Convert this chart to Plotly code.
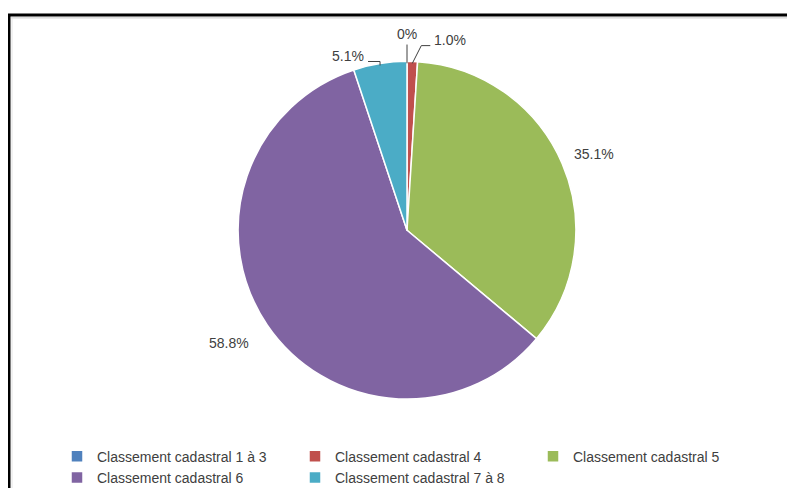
import math
import plotly.graph_objects as go

W, H = 795, 502
OFF = 8  # page body margin

labels = ["Classement cadastral 1 à 3", "Classement cadastral 4", "Classement cadastral 5",
          "Classement cadastral 6", "Classement cadastral 7 à 8"]
values = [0.0, 1.0, 35.1, 58.8, 5.1]
text_labels = ["0%", "1.0%", "35.1%", "58.8%", "5.1%"]
colors = ["#4F81BD", "#C0504D", "#9BBB59", "#8064A2", "#4BACC6"]

# pie geometry in screen pixels
cx, cy, R = 407, 233, 171

# label placement per slice: (mode, elbow dx, elbow dy from rim, horizontal run / radial offset)
label_style = [
    ("line", 0, -19, 0),
    ("line", 9, -18, 9),
    ("free", 0, 3, 32),
    ("free", -3, -4, 40),
    ("line", 0, -4, -12),
]

fw, fh = W - 2 * OFF, H - 2 * OFF

def px(x):
    return (x - OFF) / fw

def py(y):
    return 1 - (y - OFF) / fh

fig = go.Figure()
fig.add_trace(go.Pie(
    labels=labels, values=values, sort=False, direction="clockwise", rotation=0,
    marker=dict(colors=colors, line=dict(color="white", width=1.5)),
    textinfo="none", hoverinfo="label+percent",
    domain=dict(x=[px(cx - R), px(cx + R)], y=[py(cy + R), py(cy - R)]),
))

line_style = dict(color="#404040", width=1)
shapes = []
annotations = []
total = sum(values)
cum = 0
for v, t, (mode, dx, dy, run) in zip(values, text_labels, label_style):
    mid = (cum + v / 2) / total * 2 * math.pi
    cum += v
    # rim point (drawn pie is ~2px smaller than the domain)
    sx, sy = cx + (R - 2) * math.sin(mid), cy - (R - 2) * math.cos(mid)
    if mode == "line":
        ex, ey = sx + dx, sy + dy
        shapes.append(dict(type="line", xref="paper", yref="paper",
                           x0=px(sx), y0=py(sy), x1=px(ex), y1=py(ey), line=line_style))
        if run != 0:
            shapes.append(dict(type="line", xref="paper", yref="paper",
                               x0=px(ex), y0=py(ey), x1=px(ex + run), y1=py(ey), line=line_style))
            annotations.append(dict(x=px(ex + run + (2 if run > 0 else -2)), y=py(ey - 6),
                                    xanchor="left" if run > 0 else "right", yanchor="middle",
                                    text=t, showarrow=False))
        else:
            annotations.append(dict(x=px(ex), y=py(ey - 1), xanchor="center", yanchor="bottom",
                                    text=t, showarrow=False))
    else:
        ex = cx + (R + run) * math.sin(mid) + dx
        ey = cy - (R + run) * math.cos(mid) + dy
        annotations.append(dict(x=px(ex), y=py(ey), xanchor="center", yanchor="middle",
                                text=t, showarrow=False))

# frame (top and left edges of the original picture)
shapes.append(dict(type="line", xref="paper", yref="paper", x0=px(7), y0=py(15), x1=1, y1=py(15),
                   line=dict(color="black", width=3)))
shapes.append(dict(type="line", xref="paper", yref="paper", x0=px(9), y0=py(15), x1=px(9), y1=0,
                   line=dict(color="black", width=3)))
shapes.append(dict(type="line", xref="paper", yref="paper", x0=px(11), y0=py(18), x1=1, y1=py(18),
                   line=dict(color="#c8c8c8", width=1)))
shapes.append(dict(type="line", xref="paper", yref="paper", x0=px(12), y0=py(18), x1=px(12), y1=0,
                   line=dict(color="#e4e4e4", width=1)))

fig.update_layout(
    width=fw, height=fh,
    margin=dict(l=0, r=0, t=0, b=0),
    paper_bgcolor="white", plot_bgcolor="white",
    font=dict(family="Liberation Sans, Arial, sans-serif", size=14, color="#404040"),
    shapes=shapes, annotations=annotations,
    showlegend=True,
    legend=dict(orientation="h", x=px(57), y=py(446), xanchor="left", yanchor="top",
                entrywidth=193, entrywidthmode="pixels", traceorder="normal",
                font=dict(size=14, color="#404040"), bgcolor="rgba(0,0,0,0)"),
)

fig.write_html("out.html")
